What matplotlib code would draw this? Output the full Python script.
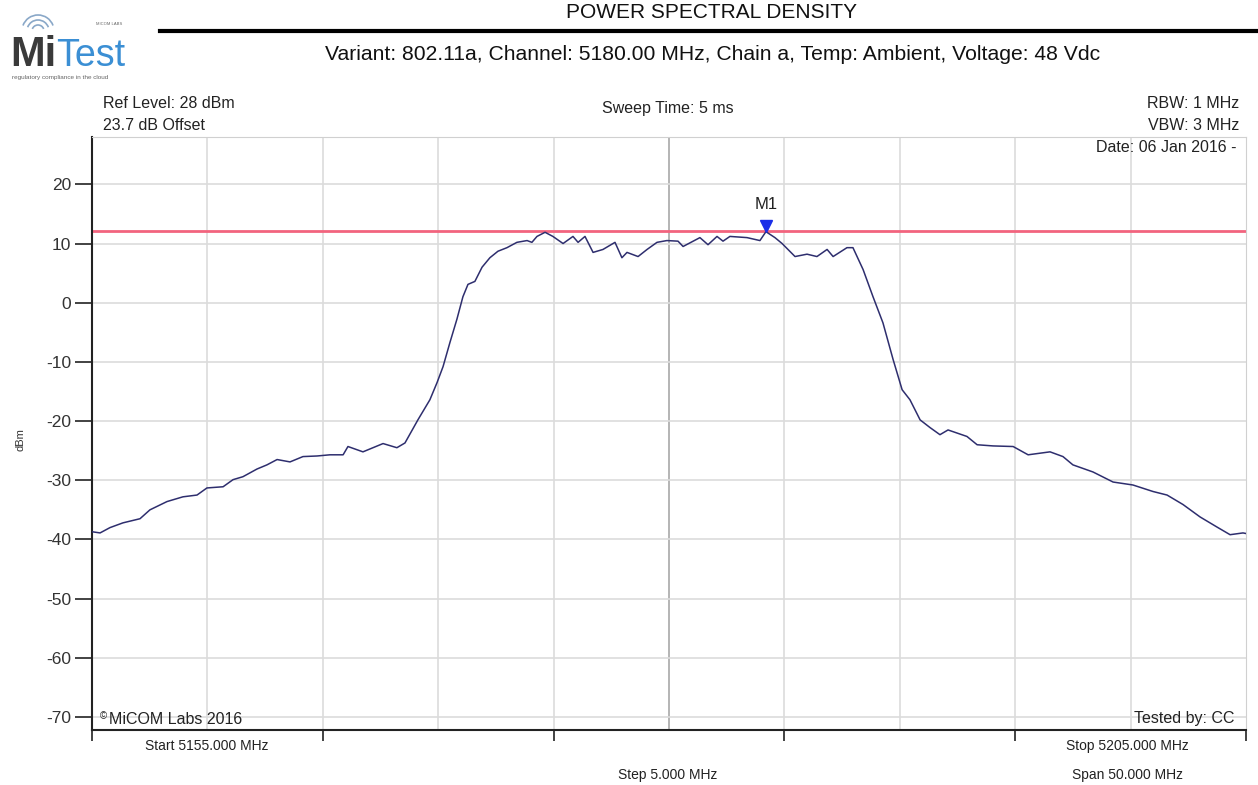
import matplotlib
matplotlib.use("Agg")
import matplotlib.pyplot as plt
from matplotlib.patches import Arc
import numpy as np

plt.rcParams["font.family"] = ["Liberation Sans", "DejaVu Sans"]
plt.rcParams["axes.unicode_minus"] = False

# Datos de la traza (MHz, dBm)
freq = [5155.00, 5155.35, 5155.78, 5156.34, 5157.08, 5157.51, 5158.25, 5158.94,
        5159.55, 5159.98, 5160.68, 5161.11, 5161.54, 5162.15, 5162.58, 5163.02,
        5163.58, 5164.14, 5164.75, 5165.31, 5165.88, 5166.09, 5166.74, 5167.61,
        5168.21, 5168.56, 5169.12, 5169.64, 5169.95, 5170.21, 5170.51, 5170.81,
        5171.07, 5171.29, 5171.59, 5171.90, 5172.24, 5172.59, 5172.98, 5173.41,
        5173.85, 5174.06, 5174.28, 5174.63, 5174.97, 5175.41, 5175.84, 5176.06,
        5176.36, 5176.71, 5177.14, 5177.66, 5177.96, 5178.18, 5178.66, 5179.05,
        5179.48, 5179.91, 5180.39, 5180.61, 5181.34, 5181.69, 5182.08, 5182.34,
        5182.64, 5183.38, 5183.94, 5184.20, 5184.59, 5184.90, 5185.46, 5185.98,
        5186.41, 5186.85, 5187.11, 5187.71, 5187.97, 5188.41, 5188.84, 5189.27,
        5189.71, 5190.10, 5190.44, 5190.88, 5191.31, 5191.74, 5192.09, 5192.91,
        5193.35, 5194.04, 5194.91, 5195.56, 5196.51, 5197.07, 5197.50, 5198.37,
        5199.24, 5200.10, 5200.97, 5201.58, 5202.27, 5203.01, 5203.74, 5204.31,
        5204.87, 5205.00]
level = [-38.7, -38.9, -38.0, -37.2, -36.5, -35.0, -33.6, -32.8,
         -32.5, -31.3, -31.1, -29.9, -29.4, -28.1, -27.4, -26.5,
         -26.9, -26.0, -25.9, -25.7, -25.7, -24.3, -25.2, -23.8,
         -24.5, -23.7, -19.8, -16.4, -13.5, -10.8, -6.7, -2.8,
         1.0, 3.1, 3.6, 6.0, 7.6, 8.7, 9.3, 10.2,
         10.5, 10.2, 11.2, 11.9, 11.2, 10.0, 11.2, 10.2,
         11.2, 8.5, 9.0, 10.2, 7.6, 8.5, 7.8, 9.0,
         10.2, 10.5, 10.4, 9.5, 11.0, 9.8, 11.2, 10.4,
         11.2, 11.0, 10.5, 12.0, 11.0, 10.0, 7.8, 8.2,
         7.8, 9.0, 7.8, 9.3, 9.3, 5.6, 1.0, -3.4,
         -9.6, -14.7, -16.4, -19.8, -21.1, -22.3, -21.5, -22.6,
         -24.0, -24.2, -24.3, -25.7, -25.2, -26.0, -27.4, -28.6,
         -30.3, -30.8, -31.9, -32.5, -34.1, -36.2, -37.9, -39.2,
         -38.9, -39.0]

limite = 12.2           # linea roja
m1_freq = 5184.20       # marcador M1
m1_level = 12.0

W, H = 1258, 785
fig = plt.figure(figsize=(W / 100, H / 100), dpi=100)

def fx(x):
    return x / W

def fy(y):
    return 1 - y / H

ax = fig.add_axes([fx(92), fy(730), fx(1246) - fx(92), fy(137) - fy(730)])

# rejilla
for f in np.arange(5160, 5205, 5):
    ax.axvline(f, color='#a8a8a8' if f == 5180 else '#dcdcdc', lw=1.2, zorder=0)
for l in np.arange(-70, 21, 10):
    ax.axhline(l, color='#dcdcdc', lw=1.2, zorder=0)

ax.axhline(limite, color='#f2647e', lw=2, zorder=2)
ax.plot(freq, level, color='#2e2e6e', lw=1.1, zorder=3)
ax.plot(m1_freq, m1_level + 1.0, marker='v', color='#1a2ee8', markersize=8, zorder=4)
ax.text(m1_freq, m1_level + 3.4, 'M1', ha='center', va='bottom', fontsize=12, color='#222222')

ax.set_xlim(5155, 5205)
ax.set_ylim(-72.2, 28.0)
ax.set_xticks(np.arange(5155, 5206, 10))
ax.set_xticklabels([])
ax.set_yticks(np.arange(-70, 21, 10))
ax.tick_params(axis='x', direction='out', length=8, width=1.2, color='#222222')
ax.tick_params(axis='y', direction='out', length=12, width=1.2, color='#222222',
               labelsize=12.5, labelcolor='#333333', pad=3)
for s in ['top', 'right']:
    ax.spines[s].set_color('#d0d0d0')
for s in ['left', 'bottom']:
    ax.spines[s].set_color('#222222')
    ax.spines[s].set_linewidth(1.5)

fig.text(fx(20), fy(440), 'dBm', rotation=90, ha='center', va='center', fontsize=8, color='#333333')

# textos dentro / alrededor
fig.text(fx(100), fy(716), '\u00a9', fontsize=7, va='center', ha='left', color='#222222')
fig.text(fx(109), fy(719), 'MiCOM Labs 2016', fontsize=11.5, va='center', ha='left', color='#222222')
fig.text(fx(1234), fy(719), 'Tested by: CC', fontsize=11.5, va='center', ha='right', color='#222222')
fig.text(fx(1236), fy(148), 'Date: 06 Jan 2016 -', fontsize=11.5, va='center', ha='right', color='#222222')

fig.text(fx(103), fy(104), 'Ref Level: 28 dBm', fontsize=11.5, va='center', ha='left', color='#222222')
fig.text(fx(103), fy(126), '23.7 dB Offset', fontsize=11.5, va='center', ha='left', color='#222222')
fig.text(fx(668), fy(108), 'Sweep Time: 5 ms', fontsize=11.5, va='center', ha='center', color='#222222')
fig.text(fx(1239), fy(104), 'RBW: 1 MHz', fontsize=11.5, va='center', ha='right', color='#222222')
fig.text(fx(1239), fy(126), 'VBW: 3 MHz', fontsize=11.5, va='center', ha='right', color='#222222')

fig.text(fx(207), fy(746), 'Start 5155.000 MHz', fontsize=10, va='center', ha='center', color='#222222')
fig.text(fx(1127), fy(746), 'Stop 5205.000 MHz', fontsize=10, va='center', ha='center', color='#222222')
fig.text(fx(668), fy(775), 'Step 5.000 MHz', fontsize=10, va='center', ha='center', color='#222222')
fig.text(fx(1127), fy(775), 'Span 50.000 MHz', fontsize=10, va='center', ha='center', color='#222222')

# cabecera
fig.text(fx(712), fy(13), 'POWER SPECTRAL DENSITY', fontsize=15, va='center', ha='center', color='#111111')
fig.add_artist(plt.Line2D([fx(160), 1.0], [fy(31), fy(31)], transform=fig.transFigure,
                          color='black', lw=3))
fig.text(fx(713), fy(54), 'Variant: 802.11a, Channel: 5180.00 MHz, Chain a, Temp: Ambient, Voltage: 48 Vdc',
         fontsize=15.2, va='center', ha='center', color='#111111')

# logo
lg = fig.add_axes([0, fy(82), fx(150), fy(0) - fy(82)])
lg.set_xlim(0, 150)
lg.set_ylim(82, 0)
lg.axis('off')
lg.text(10, 66, 'Mi', fontsize=30, fontweight='bold', color='#3a3a3a', va='baseline', ha='left')
lg.text(56, 66, 'Test', fontsize=27, color='#3b8fd4', va='baseline', ha='left')
lg.text(96, 24, 'MICOM LABS', fontsize=3, color='#666666', va='center', ha='left')
lg.text(12, 77, 'regulatory compliance in the cloud', fontsize=4.6, color='#666666', va='center', ha='left')
for r in [6, 11, 16]:
    lg.add_patch(Arc((38, 31), 2 * r, 2 * r, theta1=200, theta2=340, color='#8aa8c8', lw=1.2))

plt.savefig('out.png', dpi=100)
